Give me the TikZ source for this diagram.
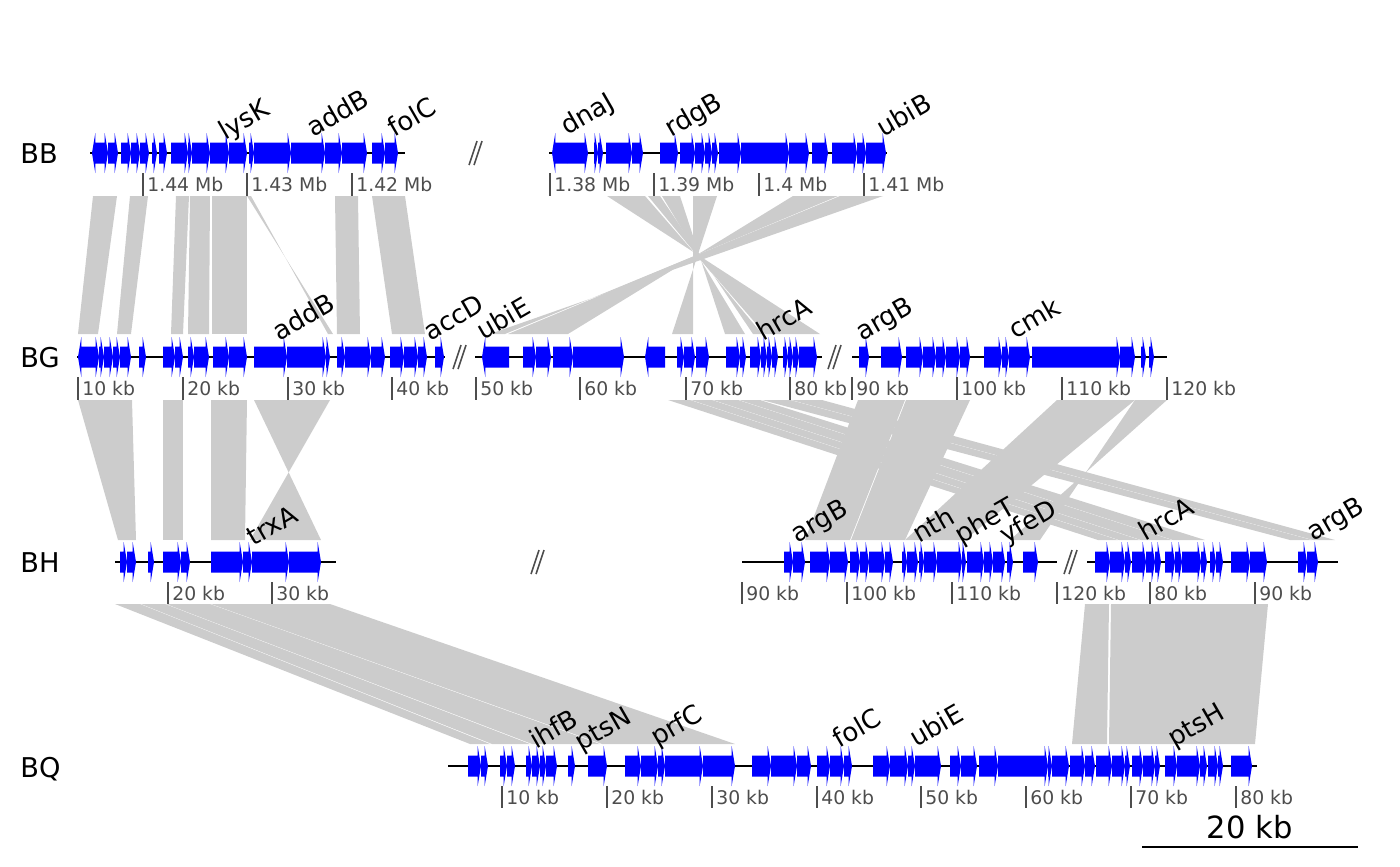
\documentclass[tikz,border=0pt]{standalone}
\usepackage{fontspec}
\setmainfont{DejaVu Sans}
\usepackage{tikz}
\usetikzlibrary{positioning}
\definecolor{geneblue}{RGB}{0,0,255}
\definecolor{homgray}{RGB}{204,204,204}
\definecolor{axisgray}{RGB}{77,77,77}
\tikzset{seq label/.style={anchor=base west,inner sep=0pt,font=\fontsize{15.5}{18}\selectfont},
	gene label/.style={anchor=base west,inner sep=0pt,rotate=30,font=\fontsize{14.8}{17}\selectfont},
	tick label/.style={anchor=base west,inner sep=0pt,text=axisgray,font=\fontsize{10.7}{12}\selectfont},
	tick mark/.style={draw=axisgray,line width=1.1pt},
	seq line/.style={draw=black,line width=1.1pt},
	gene body/.style={fill=geneblue},
	homology/.style={fill=homgray},
	break mark/.style={draw=axisgray,line width=0.9pt},}
\newcommand{\gene}[3]{\pgfmathsetmacro\hx{#2-3.3*sign(#2-#1)}%
	\fill[gene body] (#1,#3-10.5) -- (\hx,#3-10.5) -- (\hx,#3-20) -- (#2,#3) -- (\hx,#3+20) -- (\hx,#3+10.5) -- (#1,#3+10.5) -- cycle;}
\newcommand{\homol}[6]{\fill[homology] (#1,#5) -- (#2,#5) -- (#4,#6) -- (#3,#6) -- cycle;}
\newcommand{\brkmark}[2]{\draw[break mark] (#1-8,#2+12) -- (#1,#2-12); \draw[break mark] (#1-3,#2+12) -- (#1+5,#2-12);}

\begin{document}
\begin{tikzpicture}[x=0.02cm, y=-0.02cm]
	\useasboundingbox (0,0) rectangle (1400,866);

	\foreach \a/\b/\c/\d in {93/117/78/98, 130/148/117/131, 176/189/171/183, 190/210/188/209, 212/247/212/247, 247/251/333/328, 335/358/337/360, 372/405/392/425,
		607/645/820/765, 648/660/762/753, 662/680/745/725, 693/717/693/672, 793/838/568/508, 840/883/505/490}
		{\homol{\a}{\b}{\c}{\d}{196}{334}}
	\foreach \a/\b/\c/\d in {78/132/118/136, 163/183/163/183, 211/247/211/245, 254/330/321/250,
		668/690/1098/1118, 691/712/1119/1140, 713/738/1141/1172, 739/760/1173/1205, 762/790/1290/1312, 791/822/1313/1335,
		858/905/805/850, 906/970/851/905, 1057/1135/905/965, 1135/1167/1040/1010}
		{\homol{\a}{\b}{\c}{\d}{400}{540}}
	\foreach \a/\b/\c/\d in {115/140/470/490, 141/165/492/530, 166/210/532/600, 211/330/602/735, 1085/1109/1072/1107, 1111/1268/1109/1255}
		{\homol{\a}{\b}{\c}{\d}{604}{744}}

	\node[seq label] (BB) at (20,163) {BB};
	\node[seq label] (BG) at (20,367) {BG};
	\node[seq label] (BH) at (20,572) {BH};
	\node[seq label] (BQ) at (20,777) {BQ};

	\draw[seq line] (90,153) -- (405,153);
	\draw[seq line] (549,153) -- (887,153);
	\draw[seq line] (77,357) -- (445,357);
	\draw[seq line] (475,357) -- (822,357);
	\draw[seq line] (852,357) -- (1167,357);
	\draw[seq line] (115,562) -- (336,562);
	\draw[seq line] (742,562) -- (1057,562);
	\draw[seq line] (1087,562) -- (1338,562);
	\draw[seq line] (448,766) -- (1257,766);

	\brkmark{477}{153}
	\brkmark{461}{357}
	\brkmark{836}{357}
	\brkmark{539}{562}
	\brkmark{1072}{562}

	\foreach \a/\b in {100/92, 100/108, 108/118, 121/131, 131/140, 140/149, 152/157, 159/167, 171/188, 188/192, 192/210, 210/229, 229/247, 249/254, 254/291, 291/325, 325/342, 342/367, 372/385, 385/398,
		567/552, 567/588, 594/598, 598/603, 606/632, 632/643, 660/678, 680/695, 695/705, 705/712, 712/718, 719/741, 741/789, 789/809, 812/828, 832/857, 857/866, 866/886}
		{\gene{\a}{\b}{153}}
	\foreach \a/\b in {90/78, 90/99, 99/104, 104/113, 113/120, 120/131, 139/146, 163/175, 175/183, 188/194, 194/209, 213/229, 229/247, 254/287, 287/326, 326/330, 337/345, 345/371, 371/385, 390/404, 404/418, 418/427, 435/444,
		509/482, 523/536, 536/551, 553/573, 573/624, 665/645, 677/684, 684/695, 696/709, 726/740, 740/746, 750/761, 761/767, 767/772, 772/778, 783/788, 788/793, 793/799, 799/817,
		859/869, 881/902, 906/923, 923/936, 936/946, 946/960, 960/970, 984/1002, 1002/1009, 1009/1030, 1032/1120, 1120/1135, 1141/1146, 1149/1154}
		{\gene{\a}{\b}{357}}
	\foreach \a/\b in {120/127, 127/136, 148/154, 163/181, 181/190, 211/243, 243/252, 252/289, 289/321,
		784/793, 793/805, 810/830, 830/848, 850/860, 860/869, 869/885, 885/893, 902/907, 907/918, 919/924, 924/937, 937/962, 962/966, 967/984, 984/993, 993/1005, 1007/1013, 1023/1038,
		1095/1110, 1110/1125, 1125/1131, 1132/1146, 1146/1155, 1155/1161, 1165/1175, 1175/1182, 1182/1201, 1201/1207, 1210/1216, 1216/1223, 1231/1250, 1250/1267, 1298/1307, 1307/1318}
		{\gene{\a}{\b}{562}}
	\foreach \a/\b in {468/481, 481/488, 500/507, 507/515, 526/532, 532/540, 540/546, 546/557, 568/575, 588/607, 625/641, 641/658, 658/665, 665/703, 703/735, 752/771, 771/797, 797/811, 817/830, 830/844, 844/852,
		873/890, 890/908, 908/915, 915/941, 950/961, 961/977, 979/998, 998/1048, 1048/1052, 1052/1069, 1070/1085, 1085/1095, 1096/1112, 1112/1125, 1125/1130, 1132/1143, 1143/1155, 1155/1160, 1165/1177, 1177/1200, 1200/1207, 1208/1218, 1218/1223, 1231/1252}
		{\gene{\a}{\b}{766}}

	\foreach \x/\t [count=\i] in {143/1.44 Mb, 247/1.43 Mb, 352/1.42 Mb, 550/1.38 Mb, 654/1.39 Mb, 759/1.4 Mb, 864/1.41 Mb}
		{\draw[tick mark] (\x,173) -- (\x,196); \node[tick label] (bb-tick-\i) at (\x+4,191) {\t};}
	\foreach \x/\t [count=\i] in {78/10 kb, 183/20 kb, 288/30 kb, 392/40 kb, 476/50 kb, 580/60 kb, 686/70 kb, 790/80 kb, 852/90 kb, 957/100 kb, 1062/110 kb, 1167/120 kb}
		{\draw[tick mark] (\x,377) -- (\x,400); \node[tick label] (bg-tick-\i) at (\x+4,395) {\t};}
	\foreach \x/\t [count=\i] in {168/20 kb, 272/30 kb, 742/90 kb, 847/100 kb, 952/110 kb, 1057/120 kb, 1150/80 kb, 1255/90 kb}
		{\draw[tick mark] (\x,582) -- (\x,604); \node[tick label] (bh-tick-\i) at (\x+4,600) {\t};}
	\foreach \x/\t [count=\i] in {502/10 kb, 607/20 kb, 712/30 kb, 817/40 kb, 921/50 kb, 1026/60 kb, 1131/70 kb, 1236/80 kb}
		{\draw[tick mark] (\x,786) -- (\x,808); \node[tick label] (bq-tick-\i) at (\x+4,804) {\t};}

	\node[gene label] (bb-lysK) at (225,141) {lysK};
	\node[gene label] (bb-addB) at (313,138) {addB};
	\node[gene label] (bb-folC) at (394,138) {folC};
	\node[gene label] (bb-dnaJ) at (567,136) {dnaJ};
	\node[gene label] (bb-rdgB) at (671,138) {rdgB};
	\node[gene label] (bb-ubiB) at (883,138) {ubiB};
	\node[gene label] (bg-addB) at (279,342) {addB};
	\node[gene label] (bg-accD) at (430,342) {accD};
	\node[gene label] (bg-ubiE) at (483,341) {ubiE};
	\node[gene label] (bg-hrcA) at (763,342) {hrcA};
	\node[gene label] (bg-argB) at (862,342) {argB};
	\node[gene label] (bg-cmk) at (1015,340) {cmk};
	\node[gene label] (bh-trxA) at (253,547) {trxA};
	\node[gene label] (bh-argB) at (797,544) {argB};
	\node[gene label] (bh-nth) at (919,544) {nth};
	\node[gene label] (bh-pheT) at (961,545) {pheT};
	\node[gene label] (bh-yfeD) at (1006,545) {yfeD};
	\node[gene label] (bh-hrcA) at (1145,542) {hrcA};
	\node[gene label] (bh-argB2) at (1313,542) {argB};
	\node[gene label] (bq-ihfB) at (536,750) {ihfB};
	\node[gene label] (bq-ptsN) at (581,752) {ptsN};
	\node[gene label] (bq-prfC) at (657,747) {prfC};
	\node[gene label] (bq-folC) at (839,749) {folC};
	\node[gene label] (bq-ubiE) at (916,748) {ubiE};
	\node[gene label] (bq-ptsH) at (1174,748) {ptsH};

	\draw[line width=0.9pt] (1142,847) -- (1358,847);
	\node[anchor=base east,inner sep=0pt,font=\fontsize{17.4}{20}\selectfont] (scale) at (1293,838) {20 kb};
\end{tikzpicture}
\end{document}
